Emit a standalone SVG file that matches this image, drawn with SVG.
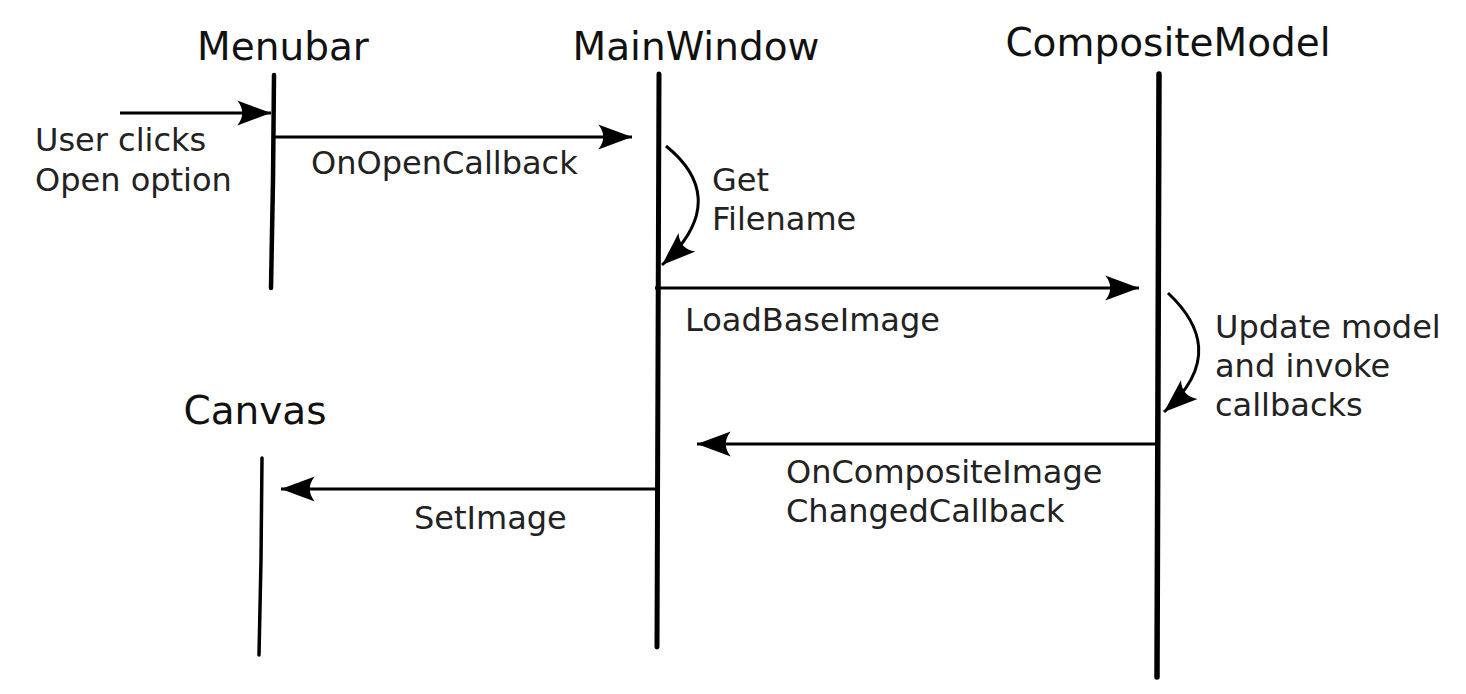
<svg xmlns="http://www.w3.org/2000/svg" width="1466" height="694" viewBox="0 0 1466 694">
<defs>
<style>
.title{font-family:"DejaVu Sans",sans-serif;font-size:39px;fill:#111}
.lbl{font-family:"DejaVu Sans",sans-serif;font-size:32px;fill:#222}
.life{stroke:#000;fill:none;stroke-linecap:round}
.msg{stroke:#000;stroke-width:3;fill:none}
</style>
<marker id="ah" markerUnits="userSpaceOnUse" markerWidth="40" markerHeight="30" viewBox="-30 -12 32 24" refX="0" refY="0" orient="auto">
<path d="M0,0 L-27,-10 Q-19,0 -27,10 Z" fill="#000"/>
</marker>
</defs>
<rect width="1466" height="694" fill="#fff"/>
<g id="menubar">
<text class="title" x="283" y="60" text-anchor="middle">Menubar</text>
<path class="life" stroke-width="4.5" d="M274,75 L273,180 L271,288"/>
</g>
<g id="mainwindow">
<text class="title" x="696" y="60" text-anchor="middle">MainWindow</text>
<path class="life" stroke-width="5" d="M659,74 L658,360 L657,647"/>
</g>
<g id="compositemodel">
<text class="title" x="1168" y="56" text-anchor="middle">CompositeModel</text>
<path class="life" stroke-width="5.5" d="M1159,74 L1158,380 L1157,677"/>
</g>
<g id="canvas">
<text class="title" x="255" y="424" text-anchor="middle">Canvas</text>
<path class="life" stroke-width="3.5" d="M262,458 L261,560 L259,655"/>
</g>
<g id="connectors">
<line class="msg" x1="120" y1="113" x2="271" y2="113" marker-end="url(#ah)"/>
<line class="msg" x1="274" y1="137" x2="632" y2="137" marker-end="url(#ah)"/>
<path class="msg" d="M666,146 C702,175 717,215 662,265" marker-end="url(#ah)"/>
<line class="msg" x1="655" y1="288" x2="1139" y2="288" marker-end="url(#ah)"/>
<path class="msg" d="M1168,293 C1202,325 1217,365 1164,412" marker-end="url(#ah)"/>
<line class="msg" x1="1157" y1="444" x2="697" y2="444" marker-end="url(#ah)"/>
<line class="msg" x1="656" y1="489" x2="281" y2="489" marker-end="url(#ah)"/>
</g>
<g id="labels">
<text class="lbl" x="35" y="151">User clicks</text>
<text class="lbl" x="35" y="191">Open option</text>
<text class="lbl" x="311" y="174">OnOpenCallback</text>
<text class="lbl" x="712" y="191">Get</text>
<text class="lbl" x="712" y="230">Filename</text>
<text class="lbl" x="685" y="331">LoadBaseImage</text>
<text class="lbl" x="1215" y="338">Update model</text>
<text class="lbl" x="1215" y="377">and invoke</text>
<text class="lbl" x="1215" y="416">callbacks</text>
<text class="lbl" x="786" y="483">OnCompositeImage</text>
<text class="lbl" x="786" y="522">ChangedCallback</text>
<text class="lbl" x="414" y="529">SetImage</text>
</g>
</svg>
